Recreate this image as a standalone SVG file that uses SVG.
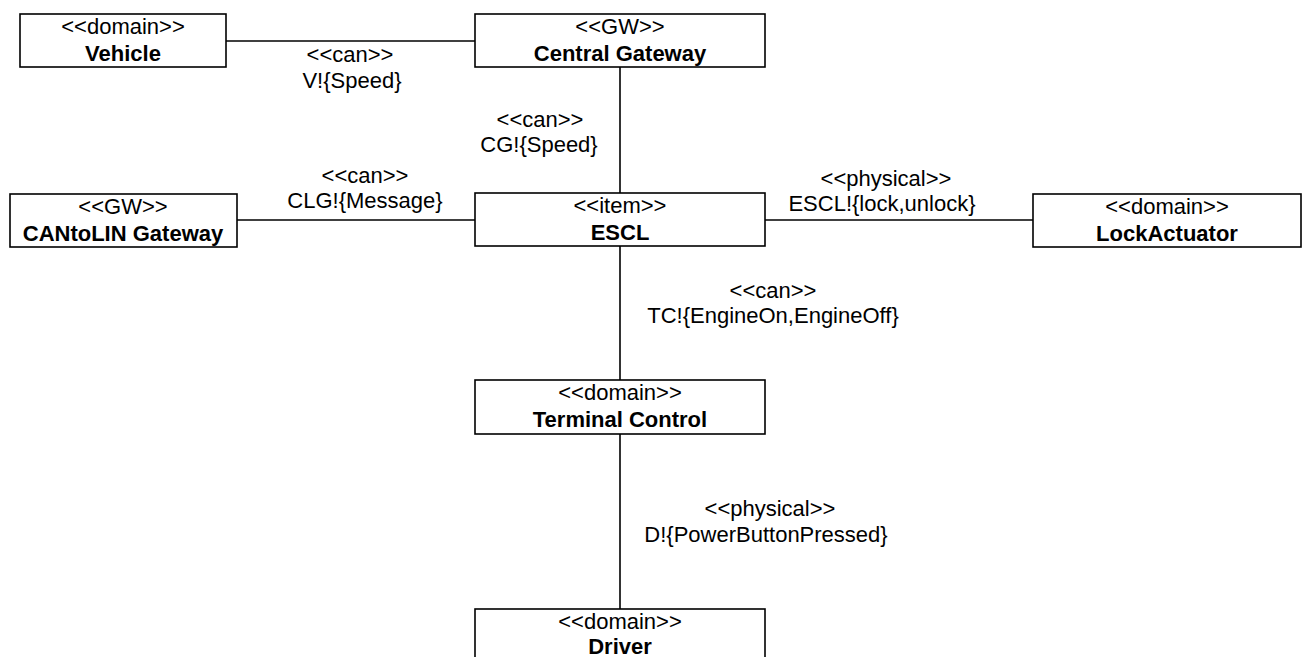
<svg xmlns="http://www.w3.org/2000/svg" width="1310" height="657" viewBox="0 0 1310 657">
<defs>
<style>
.box{fill:#fff;stroke:#000;stroke-width:1.6}
.ln{stroke:#000;stroke-width:1.6;fill:none}
.sh{stroke:#8c8c8c;stroke-width:5;fill:none;opacity:0.5}
.shv{stroke:#8c8c8c;stroke-width:3;fill:none;opacity:0.35}
text{font-family:"Liberation Sans",Arial,Helvetica,sans-serif;font-size:22px;fill:#000;text-anchor:middle}
.b{font-weight:bold}
</style>
<filter id="blur" x="-5%" y="-300%" width="110%" height="700%"><feGaussianBlur stdDeviation="2"/></filter>
<filter id="blurv" x="-300%" y="-5%" width="700%" height="110%"><feGaussianBlur stdDeviation="1.5"/></filter>
</defs>
<rect width="1310" height="657" fill="#fff"/>
<g id="connectors">
<path class="sh" filter="url(#blur)" d="M237 224H475M765 224H1033"/>
<path class="shv" filter="url(#blurv)" d="M623 246V380M623 434V609"/>
<path class="ln" d="M226 41H475"/>
<path class="ln" d="M620 67V193"/>
<path class="ln" d="M237 220H475"/>
<path class="ln" d="M765 220H1033"/>
<path class="ln" d="M620 246V380"/>
<path class="ln" d="M620 434V609"/>
<text x="350" y="62">&lt;&lt;can&gt;&gt;</text>
<text x="352" y="88">V!{Speed}</text>
<text x="540" y="127">&lt;&lt;can&gt;&gt;</text>
<text x="539" y="152">CG!{Speed}</text>
<text x="365" y="183">&lt;&lt;can&gt;&gt;</text>
<text x="365" y="208">CLG!{Message}</text>
<text x="886" y="186">&lt;&lt;physical&gt;&gt;</text>
<text x="882" y="211">ESCL!{lock,unlock}</text>
<text x="773" y="298">&lt;&lt;can&gt;&gt;</text>
<text x="773" y="323">TC!{EngineOn,EngineOff}</text>
<text x="770" y="516">&lt;&lt;physical&gt;&gt;</text>
<text x="766" y="542">D!{PowerButtonPressed}</text>
</g>
<g id="vehicle">
<rect class="box" x="20" y="14" width="206" height="53"/>
<text x="123" y="34">&lt;&lt;domain&gt;&gt;</text>
<text class="b" x="123" y="61">Vehicle</text>
</g>
<g id="central-gateway">
<rect class="box" x="475" y="14" width="290" height="53"/>
<text x="620" y="34">&lt;&lt;GW&gt;&gt;</text>
<text class="b" x="620" y="61">Central Gateway</text>
</g>
<g id="cantolin-gateway">
<rect class="box" x="10" y="194" width="227" height="53"/>
<text x="123" y="214">&lt;&lt;GW&gt;&gt;</text>
<text class="b" x="123" y="241">CANtoLIN Gateway</text>
</g>
<g id="escl">
<rect class="box" x="475" y="193" width="290" height="53"/>
<text x="620" y="213">&lt;&lt;item&gt;&gt;</text>
<text class="b" x="620" y="240">ESCL</text>
</g>
<g id="lock-actuator">
<rect class="box" x="1033" y="194" width="268" height="53"/>
<text x="1167" y="214">&lt;&lt;domain&gt;&gt;</text>
<text class="b" x="1167" y="241">LockActuator</text>
</g>
<g id="terminal-control">
<rect class="box" x="475" y="380" width="290" height="54"/>
<text x="620" y="400">&lt;&lt;domain&gt;&gt;</text>
<text class="b" x="620" y="427">Terminal Control</text>
</g>
<g id="driver">
<rect class="box" x="475" y="609" width="290" height="53"/>
<text x="620" y="629">&lt;&lt;domain&gt;&gt;</text>
<text class="b" x="620" y="654">Driver</text>
</g>
</svg>
